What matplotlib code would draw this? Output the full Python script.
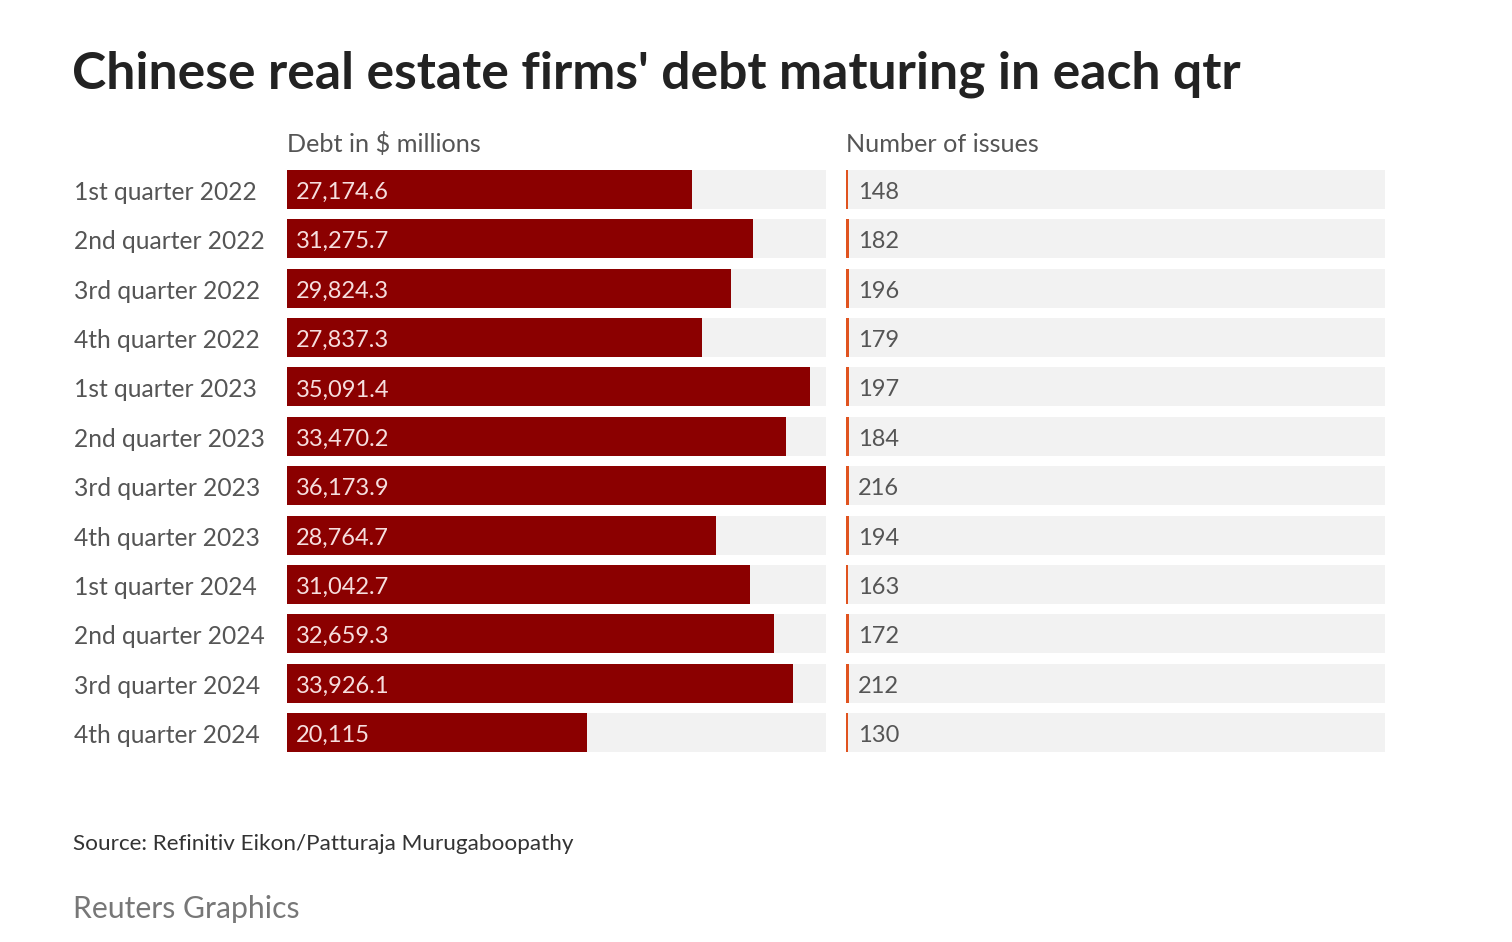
import matplotlib
matplotlib.use("Agg")
import matplotlib.pyplot as plt
from matplotlib import transforms

# data
quarters = ["1st quarter 2022", "2nd quarter 2022", "3rd quarter 2022", "4th quarter 2022",
            "1st quarter 2023", "2nd quarter 2023", "3rd quarter 2023", "4th quarter 2023",
            "1st quarter 2024", "2nd quarter 2024", "3rd quarter 2024", "4th quarter 2024"]
debt = [27174.6, 31275.7, 29824.3, 27837.3, 35091.4, 33470.2,
        36173.9, 28764.7, 31042.7, 32659.3, 33926.1, 20115]
debt_labels = ["27,174.6", "31,275.7", "29,824.3", "27,837.3", "35,091.4", "33,470.2",
               "36,173.9", "28,764.7", "31,042.7", "32,659.3", "33,926.1", "20,115"]
issues = [148, 182, 196, 179, 197, 184, 216, 194, 163, 172, 212, 130]

W, H = 1512, 942
plt.rcParams["font.family"] = ["Lato", "DejaVu Sans"]
fig = plt.figure(figsize=(W / 100, H / 100), dpi=100)
fig.patch.set_facecolor("white")

bar_h = 0.79
top, bottom = 170, 752
n = len(quarters)
ypos = list(range(n))
xmax = max(debt)
dy = 0.06  # nudge text down a little

def make_ax(x0, x1):
    ax = fig.add_axes([x0 / W, 1 - bottom / H, (x1 - x0) / W, (bottom - top) / H])
    ax.set_xlim(0, xmax)
    ax.set_ylim(n - 1 + bar_h / 2, -bar_h / 2)
    ax.axis("off")
    ax.barh(ypos, [xmax] * n, height=bar_h, color="#f2f2f2", zorder=0)
    return ax

ax1 = make_ax(287, 826)
ax1.barh(ypos, debt, height=bar_h, color="#8b0000", zorder=1)
for i, lab in enumerate(debt_labels):
    ax1.text(xmax * 9 / 539, i + dy, lab, va="center", ha="left", fontsize=17,
             color="#f6dede", zorder=2)

ax2 = make_ax(846, 1385)
# issues on the same scale as debt, hence the thin lines
ax2.barh(ypos, issues, height=bar_h, color="#e0531f", zorder=1)
for i, v in enumerate(issues):
    ax2.text(xmax * 12 / 539, i + dy, str(v), va="center", ha="left", fontsize=17,
             color="#555555", zorder=2)

tr = transforms.blended_transform_factory(fig.transFigure, ax1.transData)
for i, q in enumerate(quarters):
    fig.text(74 / W, i + dy, q, transform=tr, va="center", ha="left", fontsize=17.7,
             color="#555555")

fig.text(287 / W, 1 - 144 / H, "Debt in $ millions", va="center", ha="left",
         fontsize=18.2, color="#555555")
fig.text(846 / W, 1 - 144 / H, "Number of issues", va="center", ha="left",
         fontsize=18.2, color="#555555")

fig.text(72 / W, 1 - 74 / H, "Chinese real estate firms' debt maturing in each qtr",
         va="center", ha="left", fontsize=37.2, fontweight="bold", color="#222222")
fig.text(73 / W, 1 - 844 / H, "Source: Refinitiv Eikon/Patturaja Murugaboopathy",
         va="center", ha="left", fontsize=16.2, color="#333333")
fig.text(73 / W, 1 - 909 / H, "Reuters Graphics", va="center", ha="left",
         fontsize=21.7, color="#777777")

fig.savefig("out.png", dpi=100)
